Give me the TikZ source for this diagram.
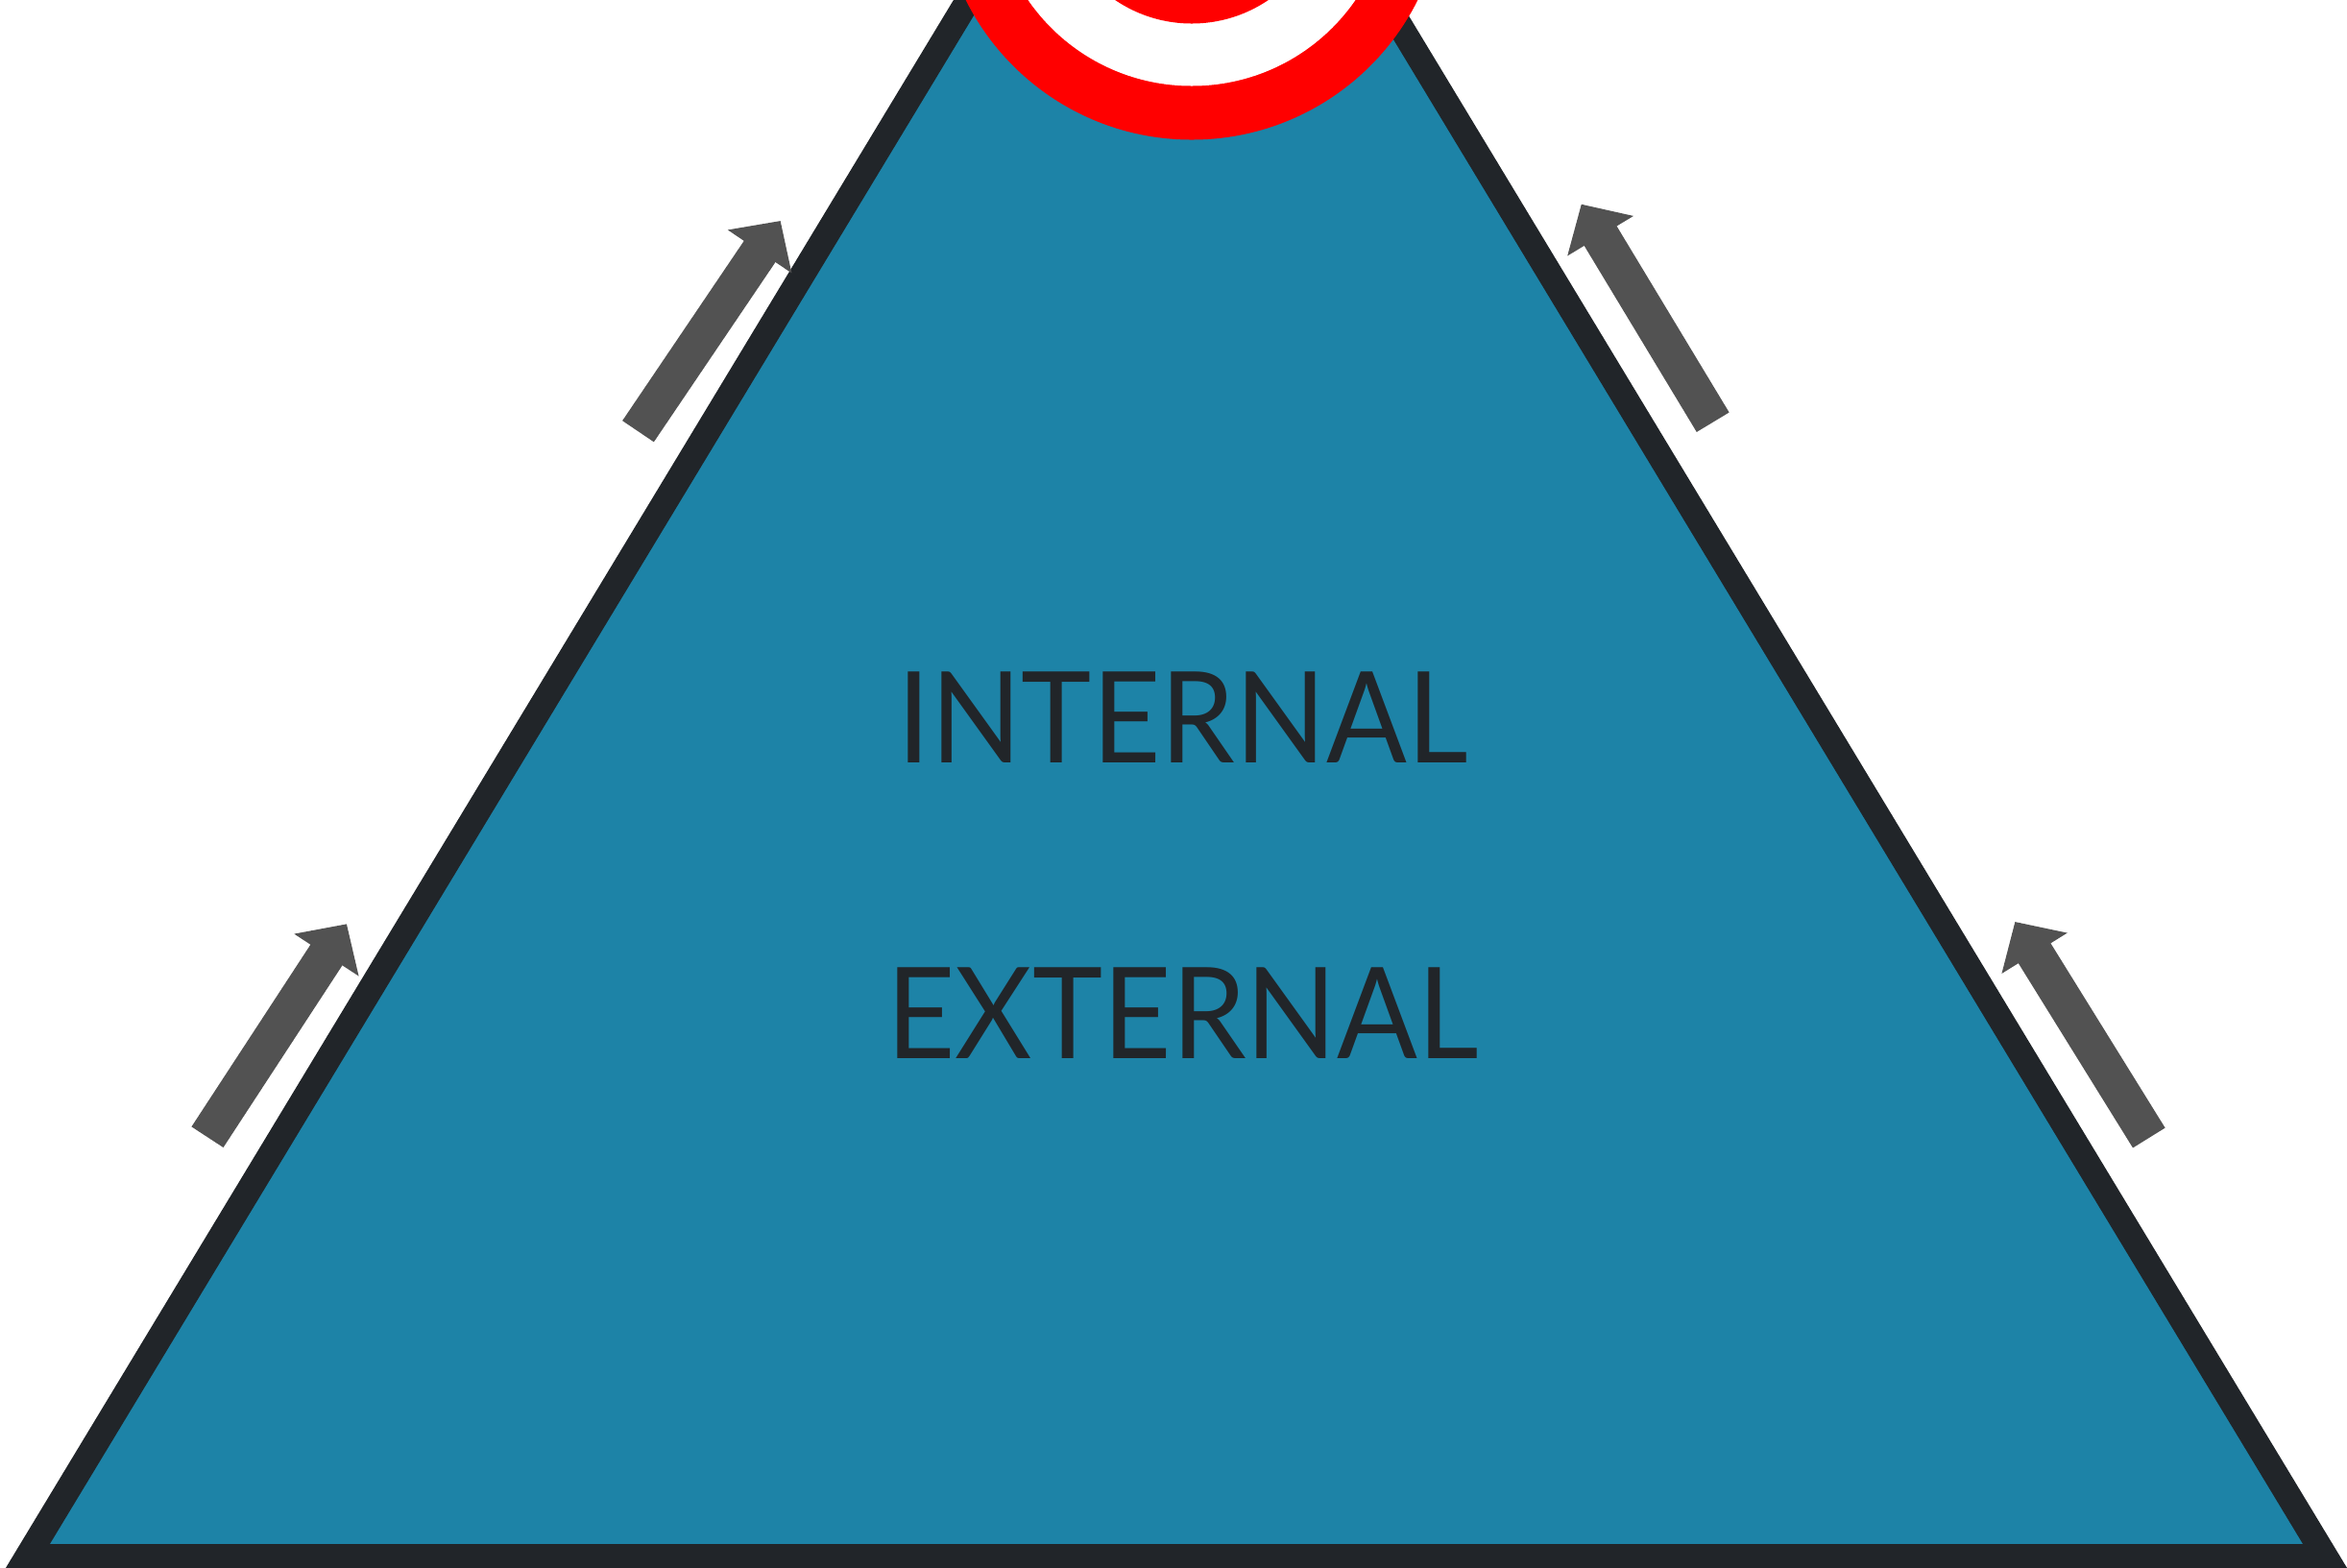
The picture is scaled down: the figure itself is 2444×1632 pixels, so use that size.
\documentclass[tikz,border=0pt]{standalone}
\usepackage{fontspec}
\setmainfont{Lato}
\newfontfamily\labelfont[FakeStretch=0.937]{Lato}
\usetikzlibrary{arrows.meta}
\definecolor{layerteal}{RGB}{29,131,167}
\definecolor{edgedark}{RGB}{33,37,41}
\definecolor{arrowgray}{RGB}{82,82,82}
\definecolor{targetred}{RGB}{255,0,0}
\tikzset{
    layerbody/.style={fill=layerteal,draw=edgedark,line width=0.264cm,line join=miter},
    flowarrow/.style={-{Triangle[length=0.385cm,width=0.78cm]},line width=0.395cm,arrowgray},
    ringred/.style={fill=targetred},
    ringwhite/.style={fill=white},
    layerlabel/.style={anchor=base,text=edgedark,font=\labelfont\fontsize{37.6}{45}\selectfont}
}

\begin{document}
\begin{tikzpicture}[x=0.01cm,y=-0.01cm]
    \clip (0,0) rectangle (2444,1632);
    % Layer triangle
    \draw[layerbody] (28.5,1621.2) -- (1225,-358.4) -- (2421.5,1621.2) -- cycle;
    % Target at the apex
    \fill[ringred] (1241,-117.5) circle (263);
    \fill[ringwhite] (1241,-117.5) circle (207);
    \fill[ringred] (1241,-117.5) circle (142);
    % Arrows along the sides
    \draw[flowarrow] (664.5,449.2) -- (812.7,230);
    \draw[flowarrow] (1783.7,439.7) -- (1646.7,212.7);
    \draw[flowarrow] (216,1184.2) -- (361,962.3);
    \draw[flowarrow] (2237.8,1185) -- (2098.3,960);
    % Labels
    \node[layerlabel] (internal) at (1231.5,794) {INTERNAL};
    \node[layerlabel] (external) at (1231.5,1102) {EXTERNAL};
\end{tikzpicture}
\end{document}
